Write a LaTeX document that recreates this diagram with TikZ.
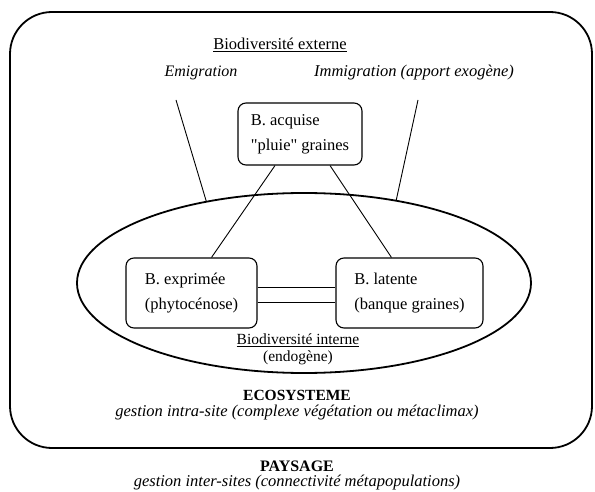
\documentclass[tikz,border=0pt]{standalone}
\usepackage{fontspec}
\setmainfont{Liberation Serif}
\usetikzlibrary{shapes.geometric,calc}
\tikzset{
  biobox/.style={draw, rounded corners=8pt, line width=1.1pt, align=left,
    font=\fontsize{16.5}{25}\selectfont, inner sep=0pt},
  link/.style={line width=0.9pt},
  titre/.style={font=\fontsize{16}{18}\selectfont\bfseries, inner sep=0pt, anchor=base},
  sous/.style={font=\fontsize{16.5}{18}\selectfont\itshape, inner sep=0pt, anchor=base}
}
\begin{document}
\begin{tikzpicture}[x=1pt, y=-1pt, font=\fontsize{16.5}{18}\selectfont]
  \useasboundingbox (0,0) rectangle (595,492);

  % Draw the landscape frame
  \draw[line width=1.8pt, rounded corners=42pt] (10,12) rectangle (592,448);
  \node[titre] (pays) at (297,471) {PAYSAGE};
  \node[sous] (paysgest) at (297,486) {gestion inter-sites (connectivité métapopulations)};

  % Draw the ecosystem
  \node[draw, ellipse, line width=1.8pt, minimum width=454pt, minimum height=180pt,
    inner sep=0pt] (eco) at (304,283) {};
  \node[titre, font=\fontsize{15.5}{18}\selectfont\bfseries] (ecot) at (297,400) {ECOSYSTEME};
  \node[sous] (ecogest) at (297,416) {gestion intra-site (complexe végétation ou métaclimax)};

  % External biodiversity
  \node (ext) at (280,45) {\underline{Biodiversité externe}};
  \node[font=\fontsize{16}{18}\selectfont\itshape] (emig) at (201,73) {Emigration};
  \node[font=\fontsize{16.5}{18}\selectfont\itshape] (immig) at (414,73) {Immigration (apport exogène)};
  \coordinate (emi) at (176,100);
  \coordinate (immi) at (418,100);
  \draw[link] (emi) -- (eco.140);
  \draw[link] (immi) -- (eco.42);

  % The three compartments
  \node[biobox, minimum width=124pt, minimum height=62pt] (acq) at (300,134)
    {B. acquise\\\textquotedbl pluie\textquotedbl{} graines};
  \node[biobox, minimum width=131pt, minimum height=70pt] (expr) at (191.5,293)
    {B. exprimée\\(phytocénose)};
  \node[biobox, minimum width=147pt, minimum height=70pt] (lat) at (409.5,293)
    {B. latente\\(banque graines)};

  \draw[link] ($(acq.south)+(-25pt,0)$) -- ($(expr.north)+(20pt,0)$);
  \draw[link] ($(acq.south)+(30pt,0)$) -- ($(lat.north)+(-18pt,0)$);
  \draw[link] ([yshift=6pt]expr.east) -- ([yshift=6pt]lat.west);
  \draw[link] ([yshift=-9pt]expr.east) -- ([yshift=-9pt]lat.west);

  % Internal biodiversity
  \node[font=\fontsize{15.5}{18}\selectfont] (int) at (298,340) {\underline{Biodiversité interne}};
  \node[font=\fontsize{15.5}{18}\selectfont] (endo) at (298,358) {(endogène)};
\end{tikzpicture}
\end{document}
